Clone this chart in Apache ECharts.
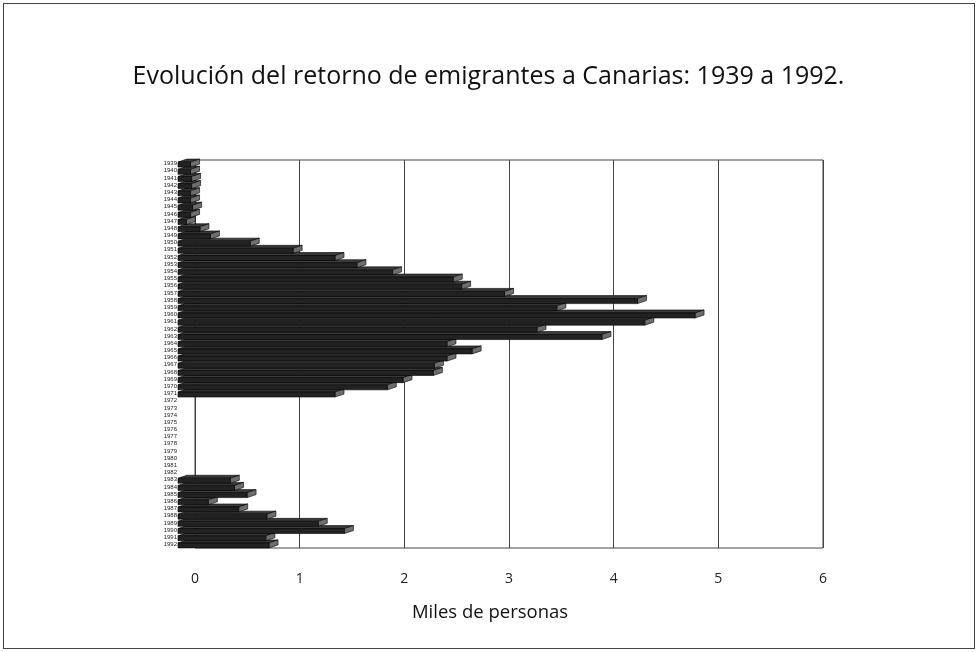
<!DOCTYPE html>
<html>
<head>
<meta charset="utf-8">
<title>Retorno de emigrantes a Canarias</title>
<script src="https://cdn.jsdelivr.net/npm/echarts@6/dist/echarts.min.js"></script>
<style>
  html, body { margin: 0; padding: 0; background: #fff; }
  #frame { position: absolute; left: 3px; top: 3px; width: 970px; height: 644px; border: 1px solid #444; }
  #chart { position: absolute; left: 0; top: 0; width: 977px; height: 652px; }
</style>
</head>
<body>
<div id="frame"></div>
<div id="chart"></div>
<script>
// años (eje vertical)
const years = [
  '1939', '1940', '1941', '1942', '1943', '1944', '1945', '1946', '1947', '1948',
  '1949', '1950', '1951', '1952', '1953', '1954', '1955', '1956', '1957', '1958',
  '1959', '1960', '1961', '1962', '1963', '1964', '1965', '1966', '1967', '1968',
  '1969', '1970', '1971', '1972', '1973', '1974', '1975', '1976', '1977', '1978',
  '1979', '1980', '1981', '1982', '1983', '1984', '1985', '1986', '1987', '1988',
  '1989', '1990', '1991', '1992'
];
// miles de personas retornadas
const retornados = [
  0.12, 0.12, 0.13, 0.13, 0.12, 0.12, 0.14, 0.12, 0.08, 0.21,
  0.31, 0.69, 1.10, 1.50, 1.71, 2.05, 2.63, 2.71, 3.12, 4.39,
  3.62, 4.94, 4.46, 3.43, 4.05, 2.57, 2.81, 2.57, 2.45, 2.44,
  2.15, 2.00, 1.50, 0, 0, 0, 0, 0, 0, 0,
  0, 0, 0, 0, 0.50, 0.54, 0.66, 0.29, 0.58, 0.85,
  1.34, 1.59, 0.84, 0.87
];
const xTicks = [0, 1, 2, 3, 4, 5, 6];

const chart = echarts.init(document.getElementById('chart'));

const data = years.map((y, i) => [retornados[i], y]);

// barra con aspecto 3D: cara frontal, cara superior y lateral
function renderBar(params, api) {
  const v = api.value(0);
  if (!v) return null;
  const c = api.value(1);
  const s = api.coord([0, c]);
  const e = api.coord([v, c]);
  const off = 17, h = 5, dx = 9, dy = 3;
  const x0 = s[0] - off, x1 = e[0] - off;
  const y0 = s[1] - 1.5, y1 = y0 + h;
  const z = (years.length - params.dataIndex) * 3;
  return {
    type: 'group',
    children: [
      {
        type: 'polygon',
        z2: z,
        shape: { points: [[x0, y0], [x1, y0], [x1 + dx, y0 - dy], [x0 + dx, y0 - dy]] },
        style: { fill: '#3a3a3a', stroke: '#000', lineWidth: 0.6 }
      },
      {
        type: 'polygon',
        z2: z + 1,
        shape: { points: [[x1, y0], [x1 + dx, y0 - dy], [x1 + dx, y1 - dy], [x1, y1]] },
        style: { fill: '#6e6e6e', stroke: '#000', lineWidth: 0.6 }
      },
      {
        type: 'rect',
        z2: z + 2,
        shape: { x: x0, y: y0, width: x1 - x0, height: h },
        style: { fill: '#222', stroke: '#000', lineWidth: 0.6 }
      }
    ]
  };
}

chart.setOption({
  animation: false,
  title: {
    text: 'Evolución del retorno de emigrantes a Canarias: 1939 a 1992.',
    left: 'center',
    top: 59,
    textStyle: { fontFamily: 'Open Sans', fontSize: 25, fontWeight: 'normal', color: '#111' }
  },
  grid: {
    left: 195, right: 154, top: 160, bottom: 104,
    show: true, borderColor: '#444', borderWidth: 1
  },
  xAxis: {
    type: 'value',
    min: 0, max: 6, interval: 1,
    name: 'Miles de personas',
    nameLocation: 'middle',
    nameGap: 55,
    nameTextStyle: { fontFamily: 'Open Sans', fontSize: 18.5, color: '#111', padding: [0, 38, 0, 0] },
    axisLine: { show: false },
    axisTick: { show: false },
    axisLabel: {
      margin: 24, fontFamily: 'Open Sans', fontSize: 14, color: '#222',
      formatter: (v) => xTicks.includes(v) ? String(v) : ''
    },
    splitLine: { show: true, lineStyle: { color: '#444', width: 1 } }
  },
  yAxis: {
    type: 'category',
    data: years,
    inverse: true,
    axisLine: { show: false },
    axisTick: { show: false },
    axisLabel: { interval: 0, margin: 18, fontFamily: 'Liberation Sans', fontSize: 6, color: '#222' }
  },
  series: [{
    type: 'custom',
    renderItem: renderBar,
    encode: { x: 0, y: 1 },
    data: data
  }]
});
</script>
</body>
</html>
